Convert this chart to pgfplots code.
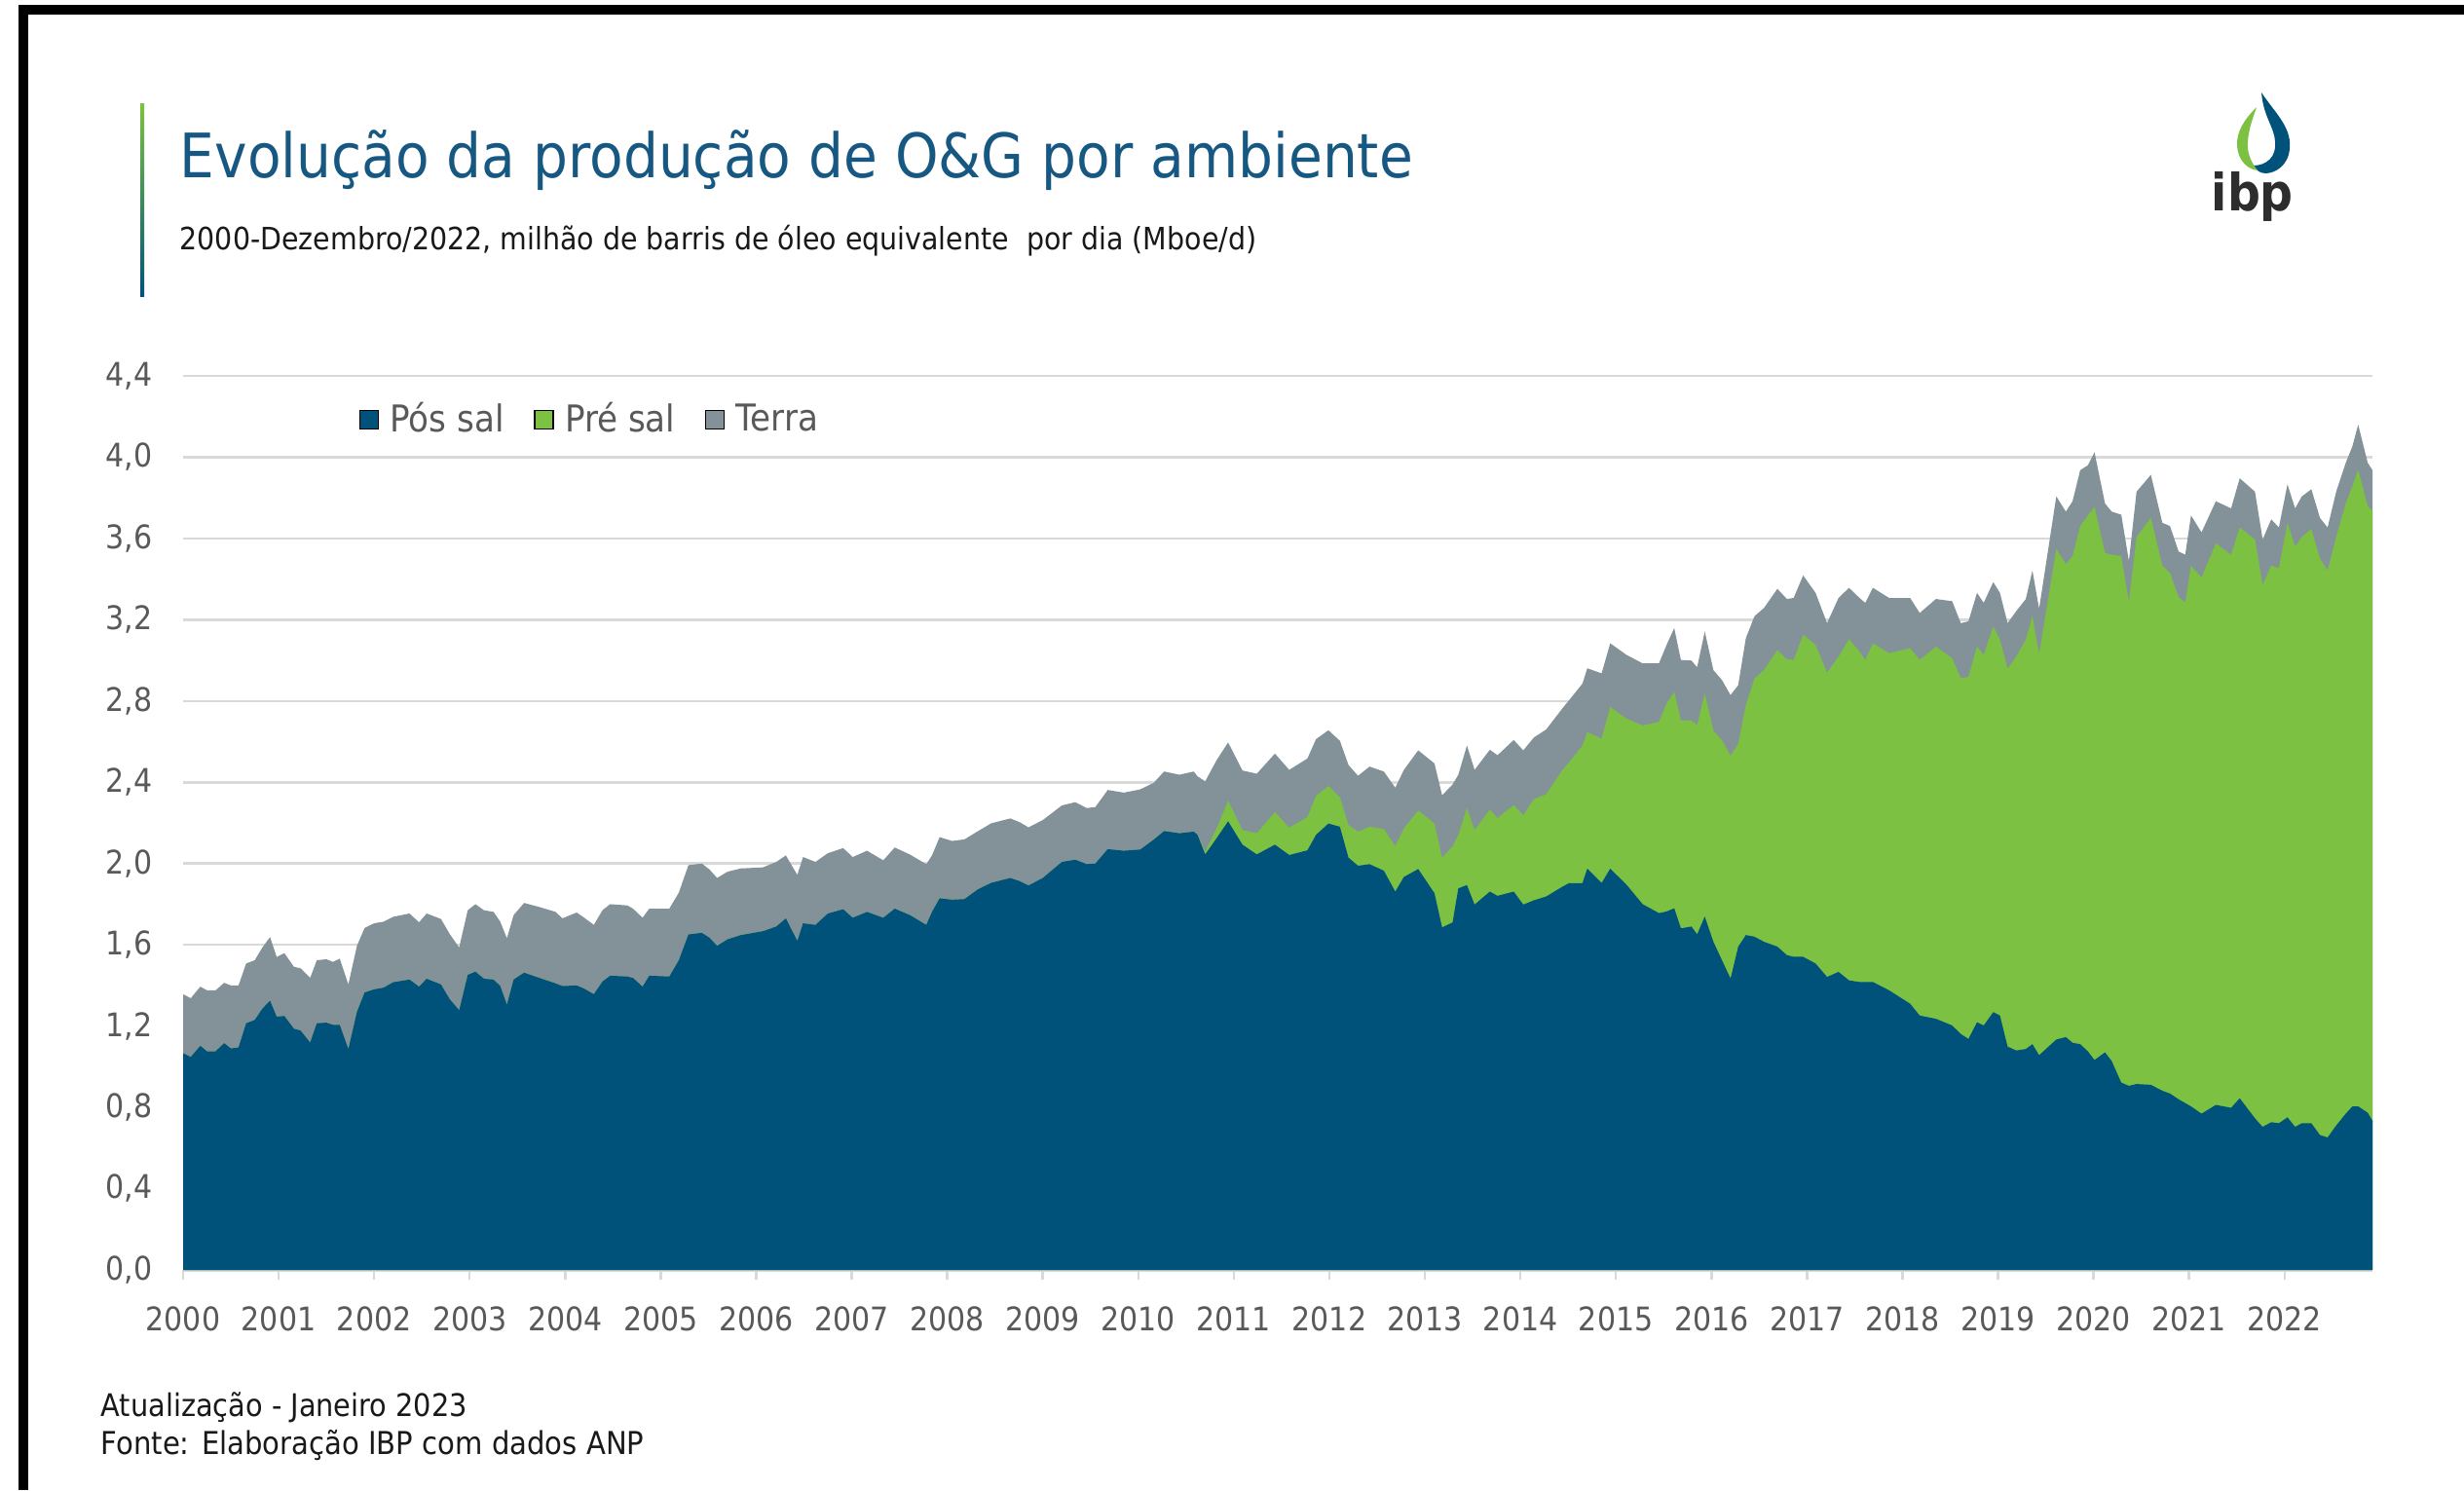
\documentclass[border=0pt]{standalone}
\usepackage{pgfplots}
\pgfplotsset{compat=1.18}
\usepackage{pgfplotstable}
\usepackage{fontspec}
\setmainfont{DejaVu Sans}[FakeStretch=0.9]

\definecolor{titulo}{RGB}{23,88,130}
\definecolor{posazul}{RGB}{0,82,122}
\definecolor{preverde}{RGB}{125,193,66}
\definecolor{terracinza}{RGB}{131,146,152}
\definecolor{grade}{RGB}{217,217,217}
\definecolor{rotulo}{RGB}{89,89,89}
\definecolor{logotexto}{RGB}{45,45,45}

% producao mensal (Mboe/d), valores acumulados:
% pos = pos sal, topopre = pos + pre sal, total = pos + pre + terra
\pgfplotstableread{
ano     pos    topopre total
2000.00 1.067  1.067  1.357
2000.08 1.048  1.048  1.337
2000.18 1.103  1.103  1.394
2000.25 1.076  1.076  1.376
2000.34 1.076  1.076  1.376
2000.43 1.116  1.116  1.413
2000.50 1.090  1.090  1.400
2000.58 1.095  1.095  1.400
2000.66 1.214  1.214  1.508
2000.75 1.230  1.230  1.524
2000.83 1.286  1.286  1.587
2000.91 1.325  1.325  1.638
2000.98 1.246  1.246  1.540
2001.06 1.250  1.250  1.559
2001.16 1.187  1.187  1.492
2001.23 1.178  1.178  1.484
2001.33 1.119  1.119  1.437
2001.40 1.214  1.214  1.524
2001.50 1.217  1.217  1.529
2001.57 1.206  1.206  1.516
2001.64 1.206  1.206  1.532
2001.73 1.087  1.087  1.405
2001.82 1.270  1.270  1.595
2001.90 1.365  1.365  1.683
2002.00 1.381  1.381  1.706
2002.10 1.389  1.389  1.714
2002.20 1.416  1.416  1.738
2002.37 1.429  1.429  1.754
2002.47 1.394  1.394  1.711
2002.55 1.433  1.433  1.754
2002.70 1.405  1.405  1.727
2002.79 1.333  1.333  1.654
2002.89 1.278  1.278  1.587
2002.98 1.452  1.452  1.770
2003.06 1.468  1.468  1.800
2003.15 1.433  1.433  1.770
2003.25 1.429  1.429  1.762
2003.32 1.397  1.397  1.714
2003.39 1.305  1.305  1.632
2003.46 1.429  1.429  1.746
2003.57 1.463  1.463  1.806
2003.73 1.437  1.437  1.786
2003.90 1.410  1.410  1.762
2003.97 1.397  1.397  1.730
2004.12 1.400  1.400  1.759
2004.20 1.384  1.384  1.733
2004.30 1.357  1.357  1.698
2004.39 1.419  1.419  1.770
2004.47 1.448  1.448  1.800
2004.65 1.444  1.444  1.794
2004.71 1.437  1.437  1.778
2004.81 1.394  1.394  1.733
2004.88 1.448  1.448  1.778
2005.09 1.444  1.444  1.778
2005.19 1.524  1.524  1.857
2005.29 1.651  1.651  1.992
2005.43 1.659  1.659  2.000
2005.51 1.635  1.635  1.971
2005.59 1.595  1.595  1.929
2005.70 1.627  1.627  1.960
2005.84 1.648  1.648  1.976
2006.07 1.667  1.667  1.981
2006.21 1.690  1.690  2.008
2006.31 1.730  1.730  2.040
2006.43 1.619  1.619  1.944
2006.49 1.706  1.706  2.032
2006.62 1.698  1.698  2.008
2006.75 1.754  1.754  2.051
2006.91 1.775  1.775  2.076
2007.01 1.733  1.733  2.032
2007.16 1.762  1.762  2.063
2007.33 1.733  1.733  2.016
2007.45 1.778  1.778  2.079
2007.61 1.746  1.746  2.044
2007.78 1.698  1.698  1.997
2007.84 1.762  1.762  2.040
2007.92 1.829  1.829  2.130
2008.05 1.822  1.822  2.111
2008.18 1.825  1.825  2.119
2008.32 1.873  1.873  2.159
2008.46 1.905  1.905  2.198
2008.66 1.929  1.929  2.222
2008.76 1.913  1.913  2.203
2008.85 1.892  1.892  2.178
2009.00 1.929  1.929  2.214
2009.20 2.008  2.008  2.286
2009.34 2.019  2.019  2.302
2009.46 1.997  1.997  2.273
2009.55 2.000  2.000  2.278
2009.68 2.071  2.071  2.362
2009.85 2.063  2.063  2.349
2010.02 2.069  2.069  2.365
2010.16 2.117  2.117  2.397
2010.27 2.160  2.160  2.453
2010.43 2.149  2.149  2.437
2010.58 2.157  2.157  2.453
2010.62 2.141  2.141  2.429
2010.70 2.045  2.058  2.405
2010.82 2.125  2.173  2.509
2010.94 2.208  2.309  2.596
2011.09 2.093  2.165  2.458
2011.24 2.045  2.149  2.442
2011.43 2.093  2.253  2.541
2011.58 2.042  2.176  2.461
2011.77 2.065  2.229  2.517
2011.86 2.141  2.333  2.612
2011.99 2.197  2.381  2.656
2012.11 2.181  2.325  2.604
2012.20 2.029  2.189  2.485
2012.30 1.989  2.157  2.432
2012.42 1.997  2.181  2.477
2012.57 1.965  2.170  2.453
2012.69 1.862  2.085  2.373
2012.78 1.934  2.173  2.461
2012.93 1.973  2.261  2.557
2013.10 1.854  2.197  2.493
2013.18 1.686  2.029  2.336
2013.29 1.710  2.085  2.389
2013.35 1.878  2.141  2.437
2013.44 1.894  2.272  2.581
2013.52 1.798  2.165  2.461
2013.68 1.862  2.266  2.560
2013.76 1.841  2.224  2.533
2013.93 1.862  2.288  2.608
2014.03 1.798  2.237  2.557
2014.14 1.819  2.317  2.620
2014.27 1.838  2.341  2.660
2014.44 1.886  2.461  2.764
2014.51 1.904  2.498  2.804
2014.65 1.904  2.581  2.886
2014.70 1.975  2.647  2.961
2014.85 1.904  2.614  2.936
2014.94 1.975  2.771  3.084
2015.11 1.896  2.713  3.027
2015.28 1.800  2.680  2.985
2015.45 1.756  2.697  2.985
2015.53 1.764  2.787  3.076
2015.61 1.780  2.845  3.159
2015.68 1.681  2.705  3.002
2015.79 1.690  2.705  2.999
2015.85 1.652  2.680  2.966
2015.93 1.739  2.837  3.142
2016.02 1.615  2.655  2.952
2016.11 1.524  2.606  2.903
2016.20 1.434  2.531  2.829
2016.28 1.591  2.589  2.878
2016.36 1.648  2.779  3.109
2016.45 1.640  2.911  3.217
2016.55 1.615  2.952  3.258
2016.69 1.591  3.051  3.352
2016.79 1.549  3.005  3.302
2016.86 1.541  3.002  3.307
2016.96 1.541  3.126  3.418
2017.09 1.508  3.076  3.332
2017.21 1.442  2.939  3.183
2017.33 1.467  3.018  3.307
2017.44 1.425  3.104  3.357
2017.55 1.417  3.043  3.307
2017.61 1.417  3.002  3.283
2017.69 1.417  3.084  3.357
2017.86 1.376  3.035  3.307
2018.08 1.310  3.060  3.307
2018.18 1.252  3.002  3.233
2018.35 1.236  3.068  3.302
2018.52 1.203  3.010  3.291
2018.61 1.161  2.911  3.183
2018.69 1.137  2.919  3.192
2018.78 1.219  3.068  3.332
2018.85 1.203  3.027  3.283
2018.95 1.269  3.167  3.385
2019.02 1.252  3.101  3.332
2019.10 1.099  2.959  3.183
2019.19 1.080  3.018  3.242
2019.29 1.087  3.101  3.301
2019.36 1.111  3.218  3.442
2019.43 1.057  3.030  3.254
2019.61 1.134  3.548  3.807
2019.71 1.146  3.473  3.732
2019.78 1.118  3.513  3.783
2019.86 1.111  3.661  3.936
2019.94 1.076  3.713  3.960
2020.01 1.033  3.755  4.024
2020.12 1.071  3.529  3.772
2020.19 1.028  3.520  3.732
2020.29 0.922  3.513  3.717
2020.37 0.906  3.289  3.489
2020.45 0.915  3.607  3.830
2020.60 0.911  3.701  3.913
2020.72 0.882  3.466  3.677
2020.80 0.868  3.430  3.661
2020.89 0.840  3.312  3.536
2020.96 0.821  3.284  3.520
2021.02 0.805  3.466  3.713
2021.13 0.769  3.407  3.630
2021.28 0.812  3.576  3.783
2021.44 0.798  3.520  3.748
2021.53 0.845  3.654  3.896
2021.69 0.746  3.595  3.830
2021.77 0.704  3.371  3.595
2021.86 0.727  3.466  3.694
2021.94 0.722  3.454  3.654
2022.03 0.751  3.677  3.866
2022.11 0.704  3.560  3.748
2022.18 0.722  3.607  3.807
2022.28 0.722  3.647  3.842
2022.37 0.664  3.501  3.701
2022.45 0.652  3.442  3.654
2022.54 0.711  3.607  3.830
2022.64 0.769  3.772  3.972
2022.71 0.805  3.859  4.054
2022.77 0.805  3.936  4.160
2022.87 0.774  3.760  3.972
2022.92 0.734  3.736  3.936
}\producao

\begin{document}
\begin{tikzpicture}
\begin{scope}[x=1mm,y=1mm]
  \useasboundingbox (0,0) rectangle (253,153);
  \fill[white] (0,0) rectangle (253,153);
  % moldura da captura
  \fill[black] (1.9,151.5) rectangle (253,152.5);
  \fill[black] (1.9,0) rectangle (2.9,152.5);
  % barra ao lado do titulo
  \shade[top color=preverde, bottom color=posazul] (14.4,122.5) rectangle (14.8,142.3);
  \node[anchor=base west, inner sep=0pt, text=titulo, font=\fontsize{17.9}{21}\selectfont]
    at (18.4,134.7) {Evolução da produção de O\&G por ambiente};
  \node[anchor=base west, inner sep=0pt, text=black!90, font=\fontsize{9}{11}\selectfont]
    at (18.4,127.3) {2000-Dezembro/2022, milhão de barris de óleo equivalente\ \ por dia (Mboe/d)};
  % rodape
  \node[anchor=base west, inner sep=0pt, text=black!90, font=\fontsize{9.1}{11}\selectfont]
    at (10.3,7.6) {Atualização - Janeiro 2023};
  \node[anchor=base west, inner sep=0pt, text=black!90, font=\fontsize{9.2}{11}\selectfont]
    at (10.3,3.7) {Fonte: Elaboração IBP com dados ANP};
  % logo ibp
  \fill[posazul] (232.2,143.5) .. controls (233.5,141.5) and (235.3,140.0) .. (235.1,137.8)
    .. controls (235.0,136.0) and (233.6,135.2) .. (232.6,135.2)
    .. controls (232.0,135.2) and (231.6,135.6) .. (231.4,136.0)
    .. controls (232.6,136.0) and (233.8,136.8) .. (233.6,138.5)
    .. controls (233.5,140.0) and (232.4,141.0) .. (232.2,143.5) -- cycle;
  \fill[preverde] (231.7,142.0) .. controls (230.5,140.8) and (229.6,139.5) .. (229.7,138.0)
    .. controls (229.8,136.5) and (230.8,135.6) .. (231.8,135.5)
    .. controls (231.0,136.5) and (230.7,137.5) .. (230.8,138.5)
    .. controls (230.9,139.8) and (231.3,140.8) .. (231.7,142.0) -- cycle;
  \node[anchor=base west, inner sep=0pt, text=logotexto, font=\fontsize{15}{18}\selectfont\bfseries]
    at (227.0,131.3) {ibp};
\end{scope}

\begin{axis}[
  at={(18.8mm,22.6mm)}, anchor=south west,
  width=224.8mm, height=91.8mm, scale only axis,
  xmin=2000, xmax=2022.92, ymin=0, ymax=4.4,
  axis x line*=bottom, axis y line*=left,
  x axis line style={draw=grade, line width=0.3mm},
  y axis line style={draw=none},
  xtick={2000,2001,...,2022},
  ytick={0,0.4,0.8,1.2,1.6,2.0,2.4,2.8,3.2,3.6,4.0,4.4},
  ymajorgrids, grid style={draw=grade, line width=0.25mm},
  tick align=outside, major tick length=1mm,
  x tick style={draw=grade, line width=0.25mm},
  y tick style={draw=none},
  xticklabel style={anchor=base, inner sep=0pt, yshift=-5.2mm,
    text=rotulo, font=\fontsize{9.5}{11}\selectfont},
  yticklabel style={anchor=east, inner sep=0pt, xshift=-2.1mm,
    text=rotulo, font=\fontsize{9.5}{11}\selectfont},
  x tick label style={/pgf/number format/1000 sep={}},
  y tick label style={/pgf/number format/.cd, fixed, fixed zerofill, precision=1, use comma},
  /pgf/number format/assume math mode=true,
  legend columns=3,
  legend style={at={(rel axis cs:0.080,0.951)}, anchor=west, draw=none, fill=none,
    inner sep=0pt, nodes={inner xsep=0.45mm, inner ysep=0pt},
    font=\fontsize{10.8}{12}\selectfont, text=rotulo,
    /tikz/every even column/.append style={column sep=2.6mm}},
  legend image code/.code={\fill[#1] (0mm,-0.95mm) rectangle (1.9mm,0.95mm);
    \path (2.6mm,0mm);},
]
  \addplot[fill=terracinza, draw=none, forget plot] table[x=ano, y=total] {\producao} \closedcycle;
  \addplot[fill=preverde, draw=none, forget plot] table[x=ano, y=topopre] {\producao} \closedcycle;
  \addplot[fill=posazul, draw=none, forget plot] table[x=ano, y=pos] {\producao} \closedcycle;
  \addlegendimage{fill=posazul}
  \addlegendimage{fill=preverde}
  \addlegendimage{fill=terracinza}
  \legend{Pós sal, Pré sal, Terra}
\end{axis}
\end{tikzpicture}
\end{document}
